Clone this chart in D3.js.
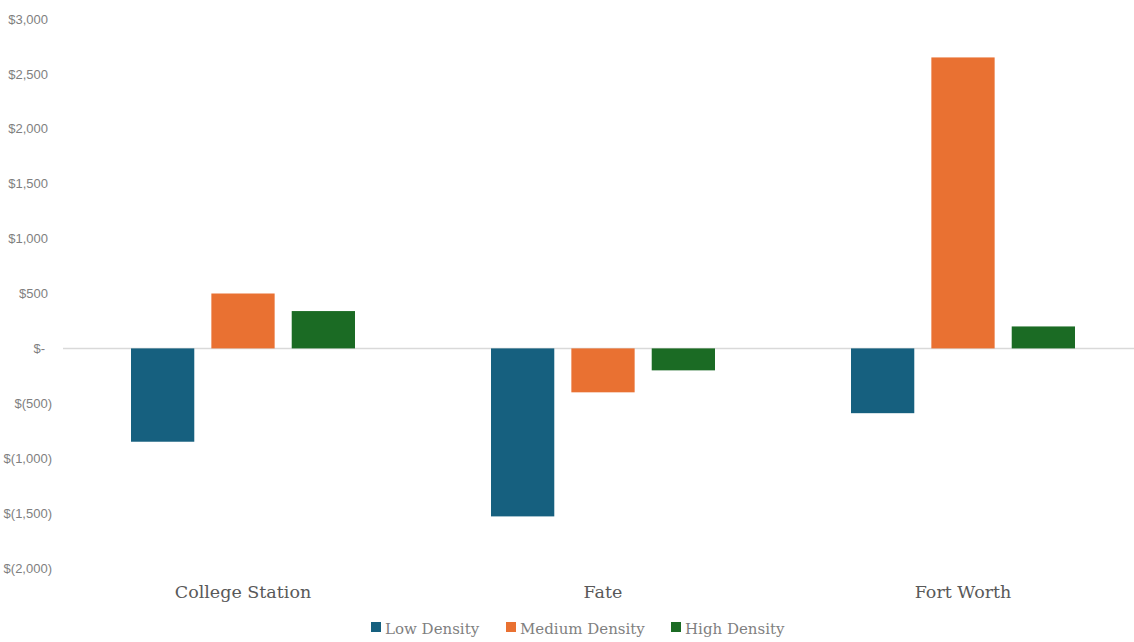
<!DOCTYPE html>
<html><head><meta charset="utf-8">
<script src="https://cdn.jsdelivr.net/npm/d3@7"></script>
<style>body{margin:0;background:#fff}svg{display:block}</style>
</head><body>
<svg id="chart" width="1134" height="642"></svg>
<script>
const categories = ["College Station", "Fate", "Fort Worth"];
const seriesNames = ["Low Density", "Medium Density", "High Density"];
const lowDensity = [-850, -1530, -590];
const mediumDensity = [500, -400, 2650];
const highDensity = [340, -200, 200];
const yTicks = [3000, 2500, 2000, 1500, 1000, 500, 0, -500, -1000, -1500, -2000];
const colors = ["#16607f", "#e97132", "#1b6b24"];

const series = [lowDensity, mediumDensity, highDensity];
const svg = d3.select("#chart");
const x0 = d3.scaleBand().domain(categories).range([63, 1143]).paddingInner(0).paddingOuter(0);
const x1 = d3.scaleBand().domain(seriesNames).range([68, 292]).paddingInner(0.2125).paddingOuter(0);
const y = d3.scaleLinear().domain([-2000, 3000]).range([568, 19]);

const fmt = v => v === 0 ? "$-" : v < 0 ? "$(" + d3.format(",")(-v) + ")" : "$" + d3.format(",")(v);

// y-axis labels
const yAxis = d3.axisLeft(y).tickValues(yTicks).tickFormat(fmt).tickSize(0).tickPadding(0);
const ya = svg.append("g").attr("transform", "translate(52,0)").call(yAxis);
ya.select(".domain").remove();
ya.selectAll("text")
  .attr("font-family", "Liberation Sans, Arial, sans-serif")
  .attr("font-size", 13)
  .attr("fill", "#7f7f7f")
  .attr("dx", d => d === 0 ? -7 : d > 0 ? -4 : 0);

// zero line
svg.append("line").attr("x1", 63).attr("x2", 1134).attr("y1", y(0)).attr("y2", y(0))
  .attr("stroke", "#d9d9d9").attr("stroke-width", 1.5);

// bars
categories.forEach((c, ci) => {
  seriesNames.forEach((s, si) => {
    const v = series[si][ci];
    svg.append("rect")
      .attr("x", x0(c) + x1(s))
      .attr("y", y(Math.max(0, v)))
      .attr("width", x1.bandwidth())
      .attr("height", Math.abs(y(v) - y(0)))
      .attr("fill", colors[si]);
  });
});

// category labels
const xAxis = d3.axisBottom(x0).tickSize(0).tickPadding(0);
const xa = svg.append("g").attr("transform", "translate(0,598)").call(xAxis);
xa.select(".domain").remove();
xa.selectAll("text")
  .attr("dy", 0)
  .attr("font-family", "Georgia, 'DejaVu Serif', serif")
  .attr("font-size", 17.5)
  .attr("fill", "#595959");

// legend
const legendX = [371, 506, 671];
const lg = svg.append("g");
seriesNames.forEach((s, i) => {
  lg.append("rect").attr("x", legendX[i]).attr("y", 622).attr("width", 10).attr("height", 10).attr("fill", colors[i]);
  lg.append("text").attr("x", legendX[i] + 14).attr("y", 634)
    .attr("font-family", "Georgia, 'DejaVu Serif', serif")
    .attr("font-size", 15).attr("fill", "#7f7f7f").text(s);
});
</script>
</body></html>
